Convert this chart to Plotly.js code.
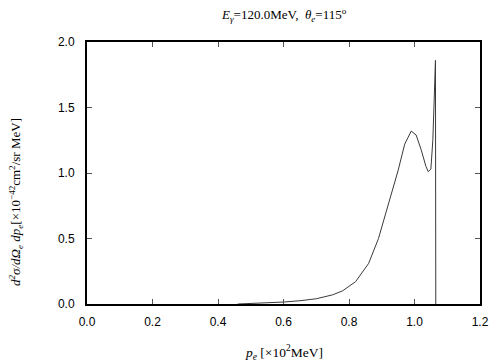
<!DOCTYPE html>
<html>
<head>
<meta charset="utf-8">
<script src="https://cdn.plot.ly/plotly-3.0.1.min.js"></script>
<style>html,body{margin:0;padding:0;background:#fff;}#chart{width:504px;height:360px;}</style>
</head>
<body>
<div id="chart"></div>
<script>
// momentum p_e [x10^2 MeV]
const pe = [0.46, 0.50, 0.55, 0.60, 0.65, 0.70, 0.75, 0.78, 0.82, 0.86, 0.89, 0.92, 0.95, 0.97, 0.99, 1.005, 1.02, 1.035, 1.042, 1.05, 1.056, 1.06, 1.064, 1.065];
// cross section d2sigma/dOmega dp [x10^-42 cm^2/sr MeV]
const xs = [0.0, 0.003, 0.008, 0.015, 0.025, 0.04, 0.07, 0.10, 0.17, 0.31, 0.50, 0.76, 1.02, 1.22, 1.32, 1.29, 1.18, 1.05, 1.01, 1.03, 1.25, 1.55, 1.86, 0.0];
const xTicks = [0.0, 0.2, 0.4, 0.6, 0.8, 1.0, 1.2];
const xTickText = ["0.0", "0.2", "0.4", "0.6", "0.8", "1.0", "1.2"];
const yTicks = [0.0, 0.5, 1.0, 1.5, 2.0];
const yTickText = ["0.0", "0.5", "1.0", "1.5", "2.0"];

const serif = "Liberation Serif, Times New Roman, serif";
const sans = "Liberation Sans, Arial, Helvetica, sans-serif";

const data = [{
  x: pe, y: xs, type: 'scatter', mode: 'lines',
  line: {color: '#3a3a3a', width: 1},
  hoverinfo: 'skip'
}];

const axisCommon = {
  showgrid: false, zeroline: false, showline: true, mirror: 'ticks',
  linecolor: '#000', linewidth: 2,
  ticks: 'inside', ticklen: 5, tickcolor: '#555', tickwidth: 1,
  tickfont: {family: sans, size: 12, color: '#000'}
};

const layout = {
  width: 504, height: 360,
  margin: {l: 87, r: 24, t: 42, b: 56},
  paper_bgcolor: '#fff', plot_bgcolor: '#fff',
  showlegend: false,
  xaxis: Object.assign({}, axisCommon, {
    range: [0, 1.2], tickmode: 'array', tickvals: xTicks, ticktext: xTickText,
    ticklabelstandoff: 6
  }),
  yaxis: Object.assign({}, axisCommon, {
    range: [0, 2.0], tickmode: 'array', tickvals: yTicks, ticktext: yTickText,
    ticklabelstandoff: 8
  }),
  annotations: [
    {text: '<i>E<sub>γ</sub></i>=120.0MeV,  <i>θ<sub>e</sub></i>=115<sup>o</sup>',
     xref: 'paper', yref: 'paper', x: 0.5, y: 1, yshift: 27, xanchor: 'center', yanchor: 'middle',
     showarrow: false, font: {family: serif, size: 13, color: '#000'}},
    {text: '<i>p<sub>e</sub></i> [×10<sup>2</sup>MeV]',
     xref: 'paper', yref: 'paper', x: 0.5, y: 0, yshift: -48, xanchor: 'center', yanchor: 'middle',
     showarrow: false, font: {family: serif, size: 13.5, color: '#000'}},
    {text: '<i>d<sup>2</sup>σ/dΩ<sub>e</sub> dp<sub>e</sub></i>[×10<sup>−42</sup>cm<sup>2</sup>/sr MeV]',
     xref: 'paper', yref: 'paper', x: 0, xshift: -71, y: 0.5, yshift: -29, xanchor: 'center', yanchor: 'middle',
     textangle: -90, showarrow: false, font: {family: serif, size: 13, color: '#000'}}
  ]
};

Plotly.newPlot('chart', data, layout, {displayModeBar: false, staticPlot: true});
</script>
</body>
</html>
